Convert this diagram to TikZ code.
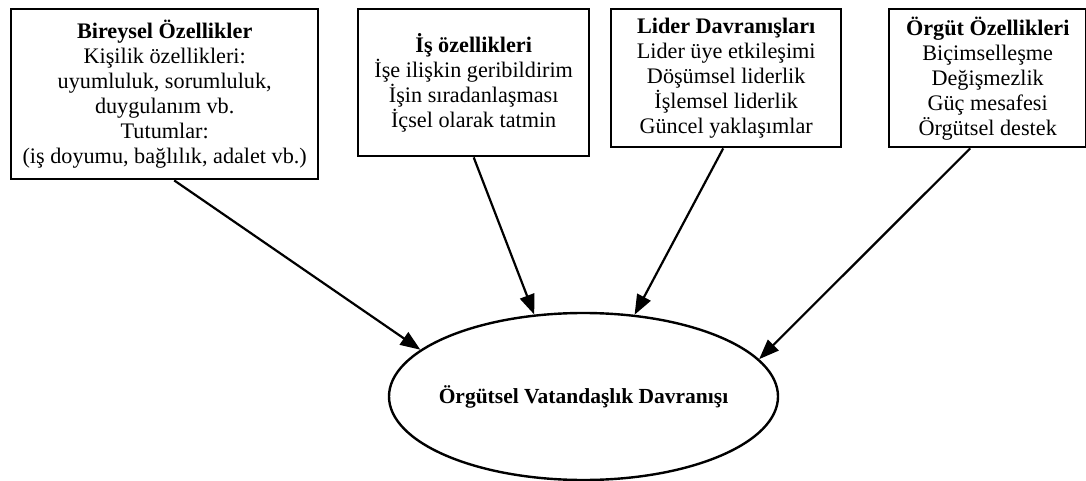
\documentclass[tikz,border=0pt]{standalone}
\usepackage{fontspec}
\setmainfont{Liberation Serif}
\usetikzlibrary{positioning,shapes.geometric,arrows.meta}
\tikzset{factor/.style = {draw, rectangle, line width=2.4pt, anchor=north west, align=center, inner sep=0pt, font=\fontsize{22.2}{25}\selectfont}}
\tikzset{outcome/.style = {draw, ellipse, line width=2.4pt, inner sep=0pt, minimum width=389pt, minimum height=167pt, font=\fontsize{21.5}{24}\selectfont\bfseries}}

\begin{document}
\begin{tikzpicture}[x=1pt, y=-1pt, >={Triangle[length=20pt,width=15pt]}, line width=2.2pt]
  \useasboundingbox (0,0) rectangle (1086,481);

  \node [factor, minimum width=307pt, minimum height=170pt] (bireysel) at (10,8)
    {\textbf{Bireysel Özellikler}\\Kişilik özellikleri:\\uyumluluk, sorumluluk,\\duygulanım vb.\\Tutumlar:\\(iş doyumu, bağlılık, adalet vb.)};
  \node [factor, minimum width=231pt, minimum height=147pt] (is) at (357,8)
    {\textbf{İş özellikleri}\\İşe ilişkin geribildirim\\İşin sıradanlaşması\\İçsel olarak tatmin};
  \node [factor, minimum width=230pt, minimum height=138pt] (lider) at (610,8)
    {\textbf{Lider Davranışları}\\Lider üye etkileşimi\\Döşümsel liderlik\\İşlemsel liderlik\\Güncel yaklaşımlar};
  \node [factor, minimum width=197pt, minimum height=138pt] (orgut) at (888,8)
    {\textbf{Örgüt Özellikleri}\\Biçimselleşme\\Değişmezlik\\Güç mesafesi\\Örgütsel destek};

  \node [outcome] (ovd) at (583.5,396.5) {\makebox[0pt]{Örgütsel Vatandaşlık Davranışı}};

  \path[->] ([xshift=9.5pt]bireysel.south) edge (ovd.164);
  \path[->] (is.south) edge (ovd.121);
  \path[->] ([xshift=-3pt]lider.south) edge (ovd.58);
  \path[->] ([xshift=-17.5pt]orgut.south) edge (ovd.12.4);
\end{tikzpicture}
\end{document}
